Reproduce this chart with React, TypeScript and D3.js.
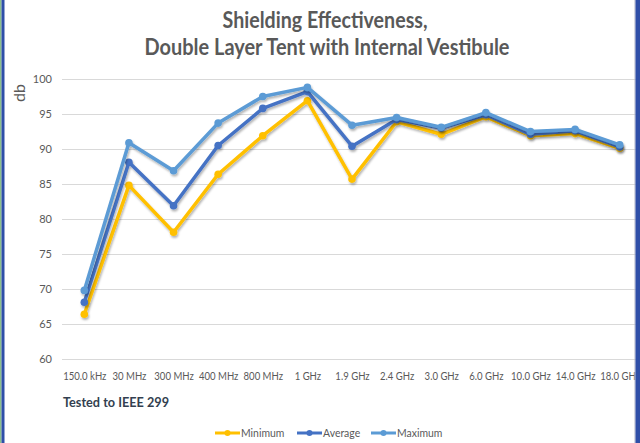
import React, { useEffect, useRef } from "react";
import { select, scalePoint, scaleLinear, line, axisLeft, axisBottom } from "d3";

const categories = [
  "150.0 kHz", "30 MHz", "300 MHz", "400 MHz", "800 MHz", "1 GHz", "1.9 GHz",
  "2.4 GHz", "3.0 GHz", "6.0 GHz", "10.0 GHz", "14.0 GHz", "18.0 GHz",
];
const minimum = [66.4, 84.8, 78.1, 86.4, 91.9, 96.9, 85.7, 93.9, 92.1, 94.6, 91.9, 92.2, 90.1];
const average = [68.1, 88.1, 81.9, 90.5, 95.8, 98.2, 90.4, 94.2, 93.0, 94.9, 92.1, 92.6, 90.3];
const maximum = [69.8, 90.9, 86.9, 93.7, 97.5, 98.8, 93.4, 94.5, 93.1, 95.2, 92.5, 92.8, 90.6];
const yTicks = [60, 65, 70, 75, 80, 85, 90, 95, 100];

const series = [
  { name: "Minimum", values: minimum, color: "#FFC000" },
  { name: "Average", values: average, color: "#4472C4" },
  { name: "Maximum", values: maximum, color: "#5B9BD5" },
];

const W = 640;
const H = 443;
const FONT = "Lato, 'Open Sans', sans-serif";

export default function App() {
  const svgRef = useRef<SVGSVGElement>(null);

  useEffect(() => {
    const svg = select(svgRef.current);
    svg.selectAll("*").remove();

    const x = scalePoint().domain(categories).range([62, 642]).padding(0.5);
    const y = scaleLinear().domain([60, 100]).range([359, 79]);

    const defs = svg.append("defs");
    const f = defs.append("filter").attr("id", "shadow").attr("x", "-10%").attr("y", "-10%").attr("width", "120%").attr("height", "130%");
    f.append("feDropShadow").attr("dx", 1).attr("dy", 2).attr("stdDeviation", 1.2).attr("flood-color", "#000").attr("flood-opacity", 0.3);

    svg.append("rect").attr("width", W).attr("height", H).attr("fill", "#fff");

    // gridlines
    const grid = svg.append("g").call(axisLeft(y).tickValues(yTicks).tickSize(-(640 - 62)).tickFormat(() => ""))
      .attr("transform", "translate(62,0)");
    grid.select(".domain").remove();
    grid.selectAll("line").attr("stroke", "#D9D9D9").attr("stroke-width", 1);

    // y labels
    svg.append("g").selectAll("text").data(yTicks).join("text")
      .attr("x", 52).attr("y", (d) => y(d) + 4)
      .attr("text-anchor", "end")
      .attr("font-family", FONT).attr("font-size", 11).attr("fill", "#595959")
      .text((d) => d);

    // x labels
    const xa = svg.append("g").attr("transform", "translate(0,359)")
      .call(axisBottom(x).tickSize(0).tickPadding(13));
    xa.select(".domain").remove();
    xa.selectAll("text").attr("font-family", FONT).attr("font-size", 11).attr("fill", "#595959")
      .attr("transform", "scale(0.87,1)");

    const lineGen = line<number>().x((_, i) => x(categories[i]) as number).y((d) => y(d));

    series.forEach((s) => {
      const g = svg.append("g").attr("filter", "url(#shadow)");
      g.append("path").attr("d", lineGen(s.values)).attr("fill", "none")
        .attr("stroke", s.color).attr("stroke-width", 3.5).attr("stroke-linejoin", "round");
      g.selectAll("circle").data(s.values).join("circle")
        .attr("cx", (_, i) => x(categories[i]) as number).attr("cy", (d) => y(d))
        .attr("r", 3.8).attr("fill", s.color);
    });

    // title
    svg.append("text").attr("x", 325).attr("y", 28).attr("text-anchor", "middle")
      .attr("font-family", FONT).attr("font-weight", "bold").attr("font-size", 23).attr("fill", "#595959")
      .attr("textLength", 205).attr("lengthAdjust", "spacingAndGlyphs")
      .text("Shielding Effectiveness,");
    svg.append("text").attr("x", 327).attr("y", 55).attr("text-anchor", "middle")
      .attr("font-family", FONT).attr("font-weight", "bold").attr("font-size", 23).attr("fill", "#595959")
      .attr("textLength", 365).attr("lengthAdjust", "spacingAndGlyphs")
      .text("Double Layer Tent with Internal Vestibule");

    // y axis title
    svg.append("text").attr("transform", "translate(25,93) rotate(-90)").attr("text-anchor", "middle")
      .attr("font-family", FONT).attr("font-size", 16).attr("fill", "#595959").text("db");

    svg.append("text").attr("x", 63).attr("y", 407)
      .attr("font-family", FONT).attr("font-weight", "bold").attr("font-size", 14).attr("fill", "#333F50")
      .attr("textLength", 106).attr("lengthAdjust", "spacingAndGlyphs")
      .text("Tested to IEEE 299");

    // legend
    const legendX = [215, 297, 371];
    series.forEach((s, i) => {
      const lg = svg.append("g").attr("transform", `translate(${legendX[i]},433)`);
      lg.append("line").attr("x1", 0).attr("x2", 25).attr("y1", 0).attr("y2", 0)
        .attr("stroke", s.color).attr("stroke-width", 3);
      lg.append("circle").attr("cx", 12.5).attr("cy", 0).attr("r", 3).attr("fill", s.color);
      lg.append("text").attr("x", 26).attr("y", 4)
        .attr("font-family", FONT).attr("font-size", 11).attr("fill", "#595959")
        .attr("transform", "scale(0.95,1)").attr("transform-origin", "26 0")
        .text(s.name);
    });

    // frame borders
    svg.append("rect").attr("x", 0).attr("y", 0).attr("width", 1.5).attr("height", H).attr("fill", "#8CC08C");
    svg.append("rect").attr("x", 1.5).attr("y", 0).attr("width", 3).attr("height", H).attr("fill", "#2F4FA8");
    svg.append("rect").attr("x", 634.5).attr("y", 0).attr("width", 1).attr("height", H).attr("fill", "#B0B4C8");
    svg.append("rect").attr("x", 635.5).attr("y", 0).attr("width", 4.5).attr("height", H).attr("fill", "#2F4FA8");
  }, []);

  return (
    <div style={{ position: "fixed", left: 0, top: 0 }}>
      <svg ref={svgRef} width={W} height={H} style={{ display: "block" }} />
    </div>
  );
}
